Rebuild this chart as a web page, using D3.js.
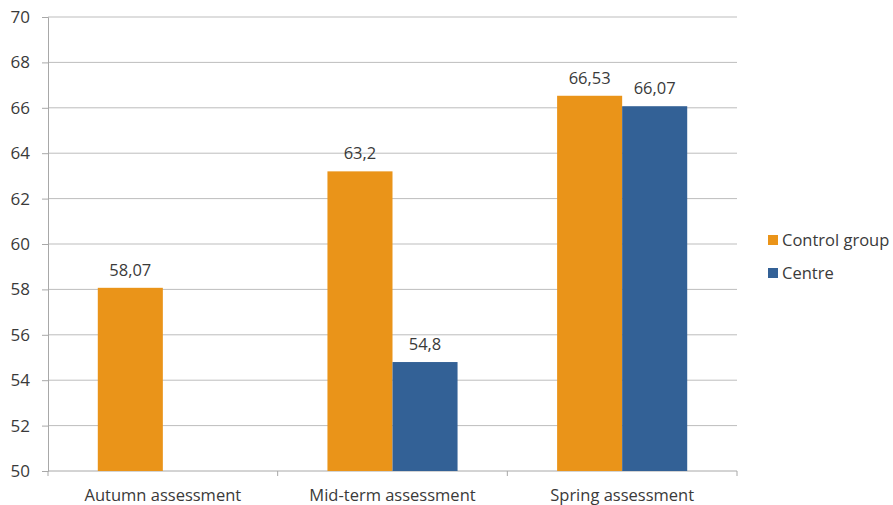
<!DOCTYPE html>
<html><head><meta charset="utf-8">
<script src="https://cdn.jsdelivr.net/npm/d3@7"></script>
<style>body{margin:0;background:#fff}text{font-family:"Open Sans","Noto Sans",sans-serif;fill:#3a3a3a}</style>
</head><body><svg id="c" width="893" height="505"></svg>
<script>
const categories = ["Autumn assessment", "Mid-term assessment", "Spring assessment"];
const seriesNames = ["Control group", "Centre"];
const controlValues = [58.07, 63.2, 66.53];
const centreValues = [null, 54.8, 66.07];
const valueLabels = [["58,07", "63,2", "66,53"], [null, "54,8", "66,07"]];
const yTicks = [50, 52, 54, 56, 58, 60, 62, 64, 66, 68, 70];
const colors = ["#EA9419", "#336196"];

(function () {
const svg = d3.select("#c");
const mLeft = 48, mRight = 737, mTop = 17, mBottom = 471;
const x = d3.scaleBand().domain(categories).range([mLeft, mRight]).paddingInner(0.4335).paddingOuter(0.2168);
const x1 = d3.scaleBand().domain(seriesNames).range([0, x.bandwidth()]);
const y = d3.scaleLinear().domain([50, 70]).range([mBottom, mTop]);

// gridlines
svg.append("g").selectAll("line").data(yTicks.slice(1)).join("line")
  .attr("x1", mLeft).attr("x2", mRight).attr("y1", d => y(d)).attr("y2", d => y(d))
  .attr("stroke", "#bdbdbd").attr("stroke-width", 1);

// y axis
const yAxis = d3.axisLeft(y).tickValues(yTicks).tickSize(6).tickPadding(12).tickFormat(d3.format("d"));
const gy = svg.append("g").attr("transform", `translate(${mLeft},0)`).call(yAxis);
gy.select(".domain").attr("stroke", "#a8a8a8");
gy.selectAll(".tick line").attr("stroke", "#a8a8a8");
gy.selectAll("text").style("font-size", "17px").attr("fill", "#3a3a3a").attr("x", -18);

// x axis
const xEdges = d3.scaleLinear().domain([0, categories.length]).range([mLeft, mRight]);
const gx = svg.append("g");
gx.append("line").attr("x1", mLeft).attr("x2", mRight).attr("y1", mBottom).attr("y2", mBottom).attr("stroke", "#a8a8a8");
gx.selectAll("line.t").data(d3.range(categories.length + 1)).join("line").attr("class", "t")
  .attr("x1", d => xEdges(d)).attr("x2", d => xEdges(d)).attr("y1", mBottom).attr("y2", mBottom + 5).attr("stroke", "#a8a8a8");
gx.selectAll("text").data(categories).join("text")
  .attr("x", d => x(d) + x.bandwidth() / 2).attr("y", mBottom + 30)
  .attr("text-anchor", "middle").style("font-size", "16.5px").text(d => d);

const series = [controlValues, centreValues];
series.forEach((vals, si) => {
  const g = svg.append("g");
  const data = categories.map((c, i) => ({c, v: vals[i], lab: valueLabels[si][i]})).filter(d => d.v != null);
  g.selectAll("rect").data(data).join("rect")
    .attr("x", d => x(d.c) + x1(seriesNames[si])).attr("width", x1.bandwidth())
    .attr("y", d => y(d.v)).attr("height", d => y(50) - y(d.v)).attr("fill", colors[si]);
  g.selectAll("text").data(data).join("text")
    .attr("x", d => x(d.c) + x1(seriesNames[si]) + x1.bandwidth() / 2).attr("y", d => y(d.v) - 12)
    .attr("text-anchor", "middle").style("font-size", "16.5px").text(d => d.lab);
});

// legend
const lg = svg.append("g");
seriesNames.forEach((n, i) => {
  lg.append("rect").attr("x", 768).attr("y", 235 + i * 33).attr("width", 10).attr("height", 10).attr("fill", colors[i]);
  lg.append("text").attr("x", 782).attr("y", 246 + i * 33).style("font-size", "16.5px").text(n);
});
})();
</script></body></html>
